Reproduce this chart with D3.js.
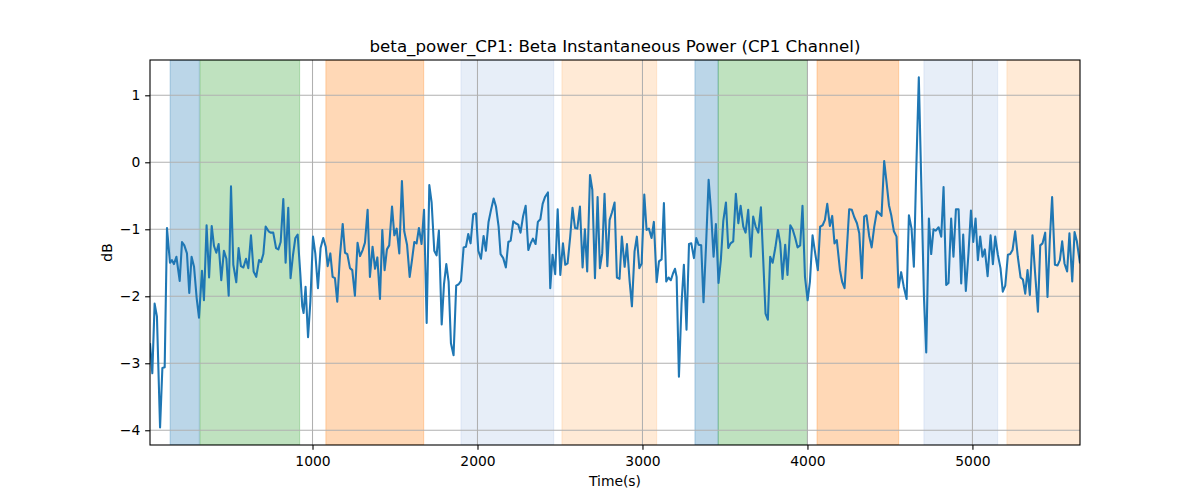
<!DOCTYPE html>
<html>
<head>
<meta charset="utf-8">
<script src="https://cdn.jsdelivr.net/npm/d3@7"></script>
<style>
  html, body { margin: 0; padding: 0; background: #ffffff; }
  svg { display: block; }
  text { font-family: "DejaVu Sans", sans-serif; fill: #000; }
</style>
</head>
<body>
<svg id="chart" width="1200" height="500"></svg>
<script>
// ---------------- data ----------------
const titleText = "beta_power_CP1: Beta Instantaneous Power (CP1 Channel)";
const xLabel = "Time(s)";
const yLabel = "dB";

const xTicks = [1000, 2000, 3000, 4000, 5000];
const yTicks = [-4, -3, -2, -1, 0, 1];
const xDomain = [15, 5652];
const yDomain = [-4.22, 1.527];

// shaded epochs (start, end, kind)
const spanStart = [137, 318, 1081, 1900, 2512, 3318, 3459, 4058, 4706, 5209];
const spanEnd   = [314, 922, 1674, 2462, 3086, 3459, 4000, 4553, 5153, 5652];
const spanKind  = ["blue", "green", "orange", "lightblue", "lightorange",
                   "blue", "green", "orange", "lightblue", "lightorange"];

const times = [
  15, 29, 43, 57, 76, 90, 104, 118, 136, 148, 160, 175, 195, 209, 223, 239, 253, 267, 282, 298,
  312, 330, 342, 358, 373, 389, 403, 417, 431, 447, 463, 478, 492, 506, 520, 538, 552, 566, 581, 597,
  611, 627, 643, 659, 676, 688, 702, 716, 734, 746, 762, 779, 793, 807, 823, 837, 853, 867, 882, 896,
  910, 926, 938, 946, 958, 973, 987, 1003, 1017, 1033, 1049, 1065, 1080, 1092, 1108, 1122, 1136, 1150, 1166, 1183,
  1197, 1211, 1227, 1241, 1257, 1273, 1288, 1304, 1318, 1334, 1348, 1364, 1379, 1393, 1409, 1423, 1437, 1451, 1465, 1482,
  1496, 1510, 1526, 1542, 1556, 1573, 1589, 1603, 1617, 1631, 1645, 1661, 1676, 1692, 1708, 1722, 1738, 1752, 1766, 1783,
  1797, 1811, 1825, 1839, 1855, 1871, 1886, 1900, 1916, 1930, 1944, 1958, 1974, 1991, 2005, 2021, 2037, 2051, 2067, 2082,
  2098, 2112, 2128, 2140, 2156, 2172, 2187, 2201, 2217, 2231, 2247, 2261, 2276, 2292, 2308, 2322, 2336, 2352, 2366, 2381,
  2395, 2409, 2427, 2441, 2455, 2471, 2486, 2502, 2518, 2532, 2546, 2562, 2576, 2591, 2605, 2621, 2637, 2651, 2665, 2682,
  2696, 2712, 2728, 2742, 2756, 2770, 2787, 2801, 2815, 2831, 2845, 2861, 2875, 2892, 2906, 2922, 2936, 2952, 2966, 2981,
  2995, 3011, 3025, 3039, 3055, 3069, 3086, 3100, 3116, 3130, 3144, 3158, 3172, 3185, 3197, 3207, 3221, 3237, 3251, 3267,
  3282, 3296, 3312, 3326, 3340, 3356, 3370, 3385, 3401, 3415, 3431, 3445, 3461, 3475, 3490, 3506, 3520, 3534, 3550, 3566,
  3581, 3595, 3611, 3625, 3641, 3657, 3671, 3686, 3702, 3718, 3732, 3746, 3760, 3774, 3789, 3805, 3821, 3835, 3849, 3865,
  3879, 3896, 3910, 3926, 3940, 3956, 3970, 3985, 4001, 4015, 4031, 4047, 4063, 4077, 4092, 4106, 4120, 4136, 4150, 4164,
  4178, 4197, 4211, 4225, 4253, 4269, 4284, 4300, 4314, 4330, 4344, 4358, 4374, 4389, 4405, 4421, 4435, 4449, 4465, 4479,
  4494, 4508, 4524, 4540, 4552, 4568, 4584, 4601, 4615, 4631, 4645, 4659, 4675, 4706, 4720, 4736, 4750, 4764, 4778, 4795,
  4811, 4825, 4841, 4855, 4871, 4885, 4900, 4916, 4932, 4944, 4960, 4976, 4991, 5005, 5019, 5033, 5047, 5061, 5075, 5092,
  5110, 5124, 5138, 5154, 5170, 5184, 5199, 5215, 5229, 5243, 5259, 5275, 5292, 5306, 5320, 5334, 5348, 5364, 5380, 5397,
  5411, 5425, 5441, 5455, 5469, 5483, 5500, 5516, 5530, 5544, 5558, 5574, 5588, 5605, 5619, 5633, 5652
];

const powerDb = [
  -2.70, -3.15, -2.11, -2.30, -3.96, -3.07, -3.06, -0.98, -1.50, -1.46, -1.52, -1.41, -1.77, -1.19, -1.24, -1.36, -1.95, -1.41, -1.56, -2.03,
  -2.32, -1.62, -2.06, -0.94, -1.72, -0.95, -1.25, -1.35, -1.22, -1.76, -1.32, -1.44, -1.99, -0.36, -1.53, -1.79, -1.28, -1.55, -1.57, -1.44,
  -1.58, -1.09, -1.63, -1.71, -1.46, -1.49, -1.37, -0.96, -1.03, -1.05, -1.05, -1.28, -1.30, -1.19, -0.55, -1.50, -0.68, -1.73, -1.38, -1.13,
  -1.08, -1.66, -2.15, -2.25, -1.86, -2.61, -2.08, -1.11, -1.36, -1.88, -1.28, -1.13, -1.26, -1.55, -1.36, -1.71, -1.73, -2.08, -1.41, -0.92,
  -1.35, -1.37, -1.58, -1.61, -1.99, -1.20, -1.40, -1.31, -1.20, -0.71, -1.71, -1.26, -1.59, -1.42, -2.04, -1.01, -1.61, -1.30, -1.24, -0.66,
  -1.09, -0.99, -1.36, -0.28, -1.03, -1.23, -1.71, -1.46, -1.19, -1.21, -0.98, -1.22, -0.71, -2.40, -0.34, -0.60, -1.32, -1.39, -1.02, -2.42,
  -1.82, -1.52, -1.78, -2.70, -2.88, -1.84, -1.82, -1.77, -1.27, -1.26, -1.07, -1.21, -0.78, -0.76, -1.32, -1.44, -1.10, -1.32, -0.89, -0.71,
  -0.54, -0.66, -0.96, -1.37, -1.43, -1.57, -1.19, -1.17, -0.88, -0.91, -0.93, -1.05, -0.81, -0.65, -1.31, -1.21, -1.14, -1.22, -0.89, -0.85,
  -0.62, -0.52, -0.45, -1.88, -1.38, -1.67, -0.70, -1.68, -1.21, -1.53, -1.51, -1.11, -0.68, -0.98, -0.99, -0.66, -1.57, -1.00, -1.63, -0.19,
  -0.41, -1.73, -0.52, -1.58, -1.36, -0.47, -1.55, -0.86, -0.75, -0.60, -1.72, -1.74, -1.11, -1.56, -1.22, -1.77, -2.15, -1.33, -1.11, -1.58,
  -1.51, -0.48, -1.01, -0.99, -1.13, -0.89, -1.79, -1.48, -1.45, -0.61, -1.78, -1.72, -1.76, -1.66, -1.59, -1.71, -3.20, -2.10, -1.53, -2.50,
  -1.22, -1.21, -1.43, -1.13, -1.23, -1.24, -2.09, -1.26, -0.26, -0.71, -1.41, -0.92, -1.80, -1.46, -0.87, -0.60, -1.28, -1.21, -1.18, -0.47,
  -0.91, -0.65, -0.96, -1.05, -0.71, -1.41, -0.81, -0.96, -1.05, -0.67, -1.46, -2.26, -2.35, -1.41, -1.50, -1.28, -1.01, -1.21, -1.74, -1.23,
  -1.68, -0.94, -1.00, -1.13, -1.27, -1.24, -0.65, -1.71, -2.06, -1.78, -1.09, -1.36, -1.61, -0.96, -0.94, -0.86, -0.62, -0.95, -0.80, -1.21,
  -1.16, -1.61, -1.79, -1.88, -0.70, -0.71, -0.82, -0.91, -1.06, -1.73, -0.81, -0.79, -1.10, -1.27, -0.96, -0.73, -0.76, -0.80, 0.02, -0.29,
  -0.64, -0.79, -1.03, -1.11, -1.87, -1.64, -1.86, -2.04, -0.79, -0.99, -1.56, -0.16, 1.27, -2.00, -2.84, -0.84, -1.37, -1.00, -1.02, -0.97,
  -1.11, -0.37, -1.83, -1.80, -0.84, -1.41, -0.70, -0.70, -1.81, -1.08, -1.92, -1.36, -0.72, -1.19, -0.84, -1.46, -1.11, -1.41, -1.30, -1.70,
  -1.09, -1.52, -1.11, -1.38, -1.58, -1.93, -1.84, -1.38, -1.37, -1.31, -1.03, -1.41, -1.72, -1.75, -1.96, -1.61, -1.98, -1.09, -1.66, -2.23,
  -1.24, -1.21, -1.05, -2.01, -1.16, -0.52, -1.53, -1.54, -1.46, -1.18, -1.51, -1.63, -1.06, -1.78, -1.04, -1.18, -1.51
];

// ---------------- styles ----------------
const spanColors = {
  blue: "#1f77b4", green: "#2ca02c", orange: "#ff7f0e",
  lightblue: "#aec7e8", lightorange: "#ffbb78"
};
const lineColor = "#1f77b4";
const gridColor = "#b0b0b0";
const tickFont = 13.89;

// ---------------- layout ----------------
const W = 1200, H = 500;
const M = { left: 150, right: 1080, top: 60, bottom: 445 };

const svg = d3.select("#chart");
svg.append("rect").attr("width", W).attr("height", H).attr("fill", "#fff");

const x = d3.scaleLinear().domain(xDomain).range([M.left, M.right]);
const y = d3.scaleLinear().domain(yDomain).range([M.bottom, M.top]);

svg.append("defs").append("clipPath").attr("id", "clip")
  .append("rect")
  .attr("x", M.left).attr("y", M.top)
  .attr("width", M.right - M.left).attr("height", M.bottom - M.top);

const plot = svg.append("g").attr("clip-path", "url(#clip)");

// spans
const spans = spanStart.map((s, i) => ({ s, e: spanEnd[i], k: spanKind[i] }));
plot.append("g").selectAll("rect").data(spans).join("rect")
  .attr("x", d => x(d.s))
  .attr("y", M.top)
  .attr("width", d => x(d.e) - x(d.s))
  .attr("height", M.bottom - M.top)
  .attr("fill", d => spanColors[d.k])
  .attr("fill-opacity", 0.3)
  .attr("stroke", d => spanColors[d.k])
  .attr("stroke-opacity", 0.3)
  .attr("stroke-width", 1);

// grid
const grid = plot.append("g").attr("stroke", gridColor).attr("stroke-width", 1.07);
grid.selectAll("line.gx").data(xTicks).join("line").attr("class", "gx")
  .attr("x1", d => x(d)).attr("x2", d => x(d))
  .attr("y1", M.top).attr("y2", M.bottom);
grid.selectAll("line.gy").data(yTicks).join("line").attr("class", "gy")
  .attr("x1", M.left).attr("x2", M.right)
  .attr("y1", d => y(d)).attr("y2", d => y(d));

// line
const pts = times.map((t, i) => [t, powerDb[i]]);
plot.append("path")
  .datum(pts)
  .attr("fill", "none")
  .attr("stroke", lineColor)
  .attr("stroke-width", 2.08)
  .attr("stroke-linejoin", "round")
  .attr("stroke-linecap", "butt")
  .attr("d", d3.line().x(d => x(d[0])).y(d => y(d[1])));

// axes
const xAxis = d3.axisBottom(x).tickValues(xTicks).tickFormat(d3.format("d"))
  .tickSize(4.86).tickPadding(6.3);
const gx = svg.append("g").attr("transform", `translate(0,${M.bottom})`).call(xAxis);
const yAxis = d3.axisLeft(y).tickValues(yTicks).tickFormat(d3.format("d"))
  .tickSize(4.86).tickPadding(4.86);
const gy = svg.append("g").attr("transform", `translate(${M.left},0)`).call(yAxis);

[gx, gy].forEach(g => {
  g.select(".domain").remove();
  g.selectAll(".tick line").attr("stroke", "#000").attr("stroke-width", 1.1);
  g.selectAll(".tick text")
    .attr("font-family", "DejaVu Sans")
    .attr("font-size", tickFont)
    .attr("fill", "#000");
});

// spines
svg.append("rect")
  .attr("x", M.left).attr("y", M.top)
  .attr("width", M.right - M.left).attr("height", M.bottom - M.top)
  .attr("fill", "none").attr("stroke", "#000").attr("stroke-width", 1.1);

// title and labels
svg.append("text")
  .attr("x", (M.left + M.right) / 2).attr("y", 52)
  .attr("text-anchor", "middle")
  .attr("font-size", 16.67)
  .text(titleText);

svg.append("text")
  .attr("x", (M.left + M.right) / 2).attr("y", 486)
  .attr("text-anchor", "middle")
  .attr("font-size", tickFont)
  .text(xLabel);

svg.append("text")
  .attr("transform", `translate(112,${(M.top + M.bottom) / 2}) rotate(-90)`)
  .attr("text-anchor", "middle")
  .attr("font-size", tickFont)
  .text(yLabel);
</script>
</body>
</html>
